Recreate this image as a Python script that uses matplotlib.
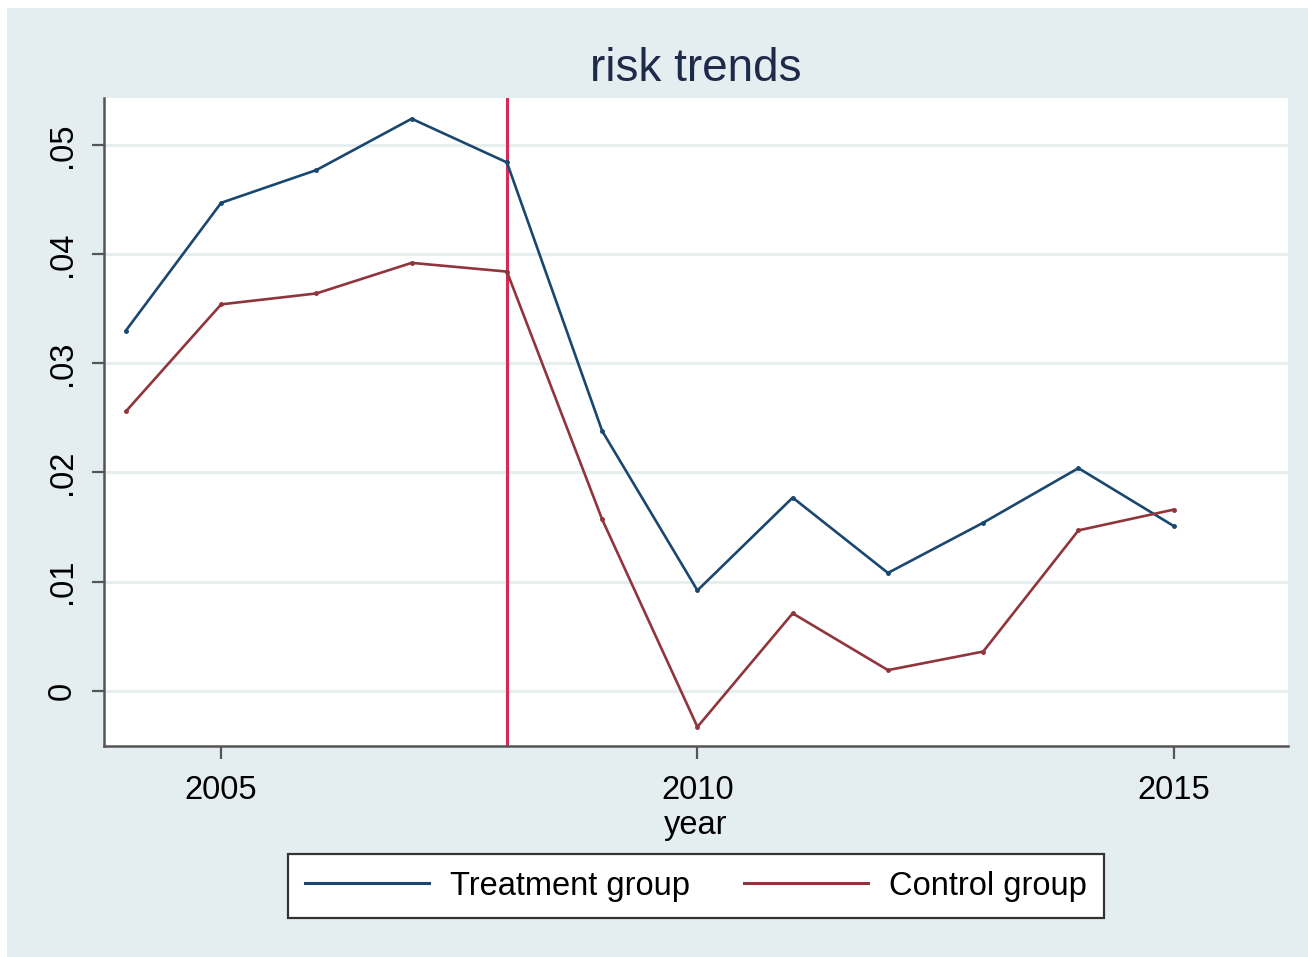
import matplotlib
matplotlib.use('Agg')
import matplotlib.pyplot as plt
from matplotlib.patches import Rectangle
from matplotlib.lines import Line2D

# yearly risk means by group
years = [2004, 2005, 2006, 2007, 2008, 2009, 2010, 2011, 2012, 2013, 2014, 2015]
treatment = [0.0330, 0.0447, 0.0477, 0.0524, 0.0484, 0.0238, 0.0092,
             0.0177, 0.0108, 0.0154, 0.0204, 0.0151]
control = [0.0256, 0.0354, 0.0364, 0.0392, 0.0384, 0.0157, -0.0033,
           0.0071, 0.0019, 0.0036, 0.0147, 0.0166]
policy_year = 2008

x_ticks = [2005, 2010, 2015]
y_ticks = [0, 0.01, 0.02, 0.03, 0.04, 0.05]
y_tick_labels = ['0', '.01', '.02', '.03', '.04', '.05']

BG = '#e4eef0'
NAVY = '#1a476f'
MAROON = '#90353b'
VLINE = '#d42a55'

plt.rcParams['font.family'] = ['Liberation Sans', 'DejaVu Sans']

fig = plt.figure(figsize=(13.08, 9.57), dpi=100)
fig.patch.set_facecolor('white')
fig.patches.append(Rectangle((7 / 1308, 0), 1 - 7 / 1308, 1 - 8 / 957,
                             transform=fig.transFigure, facecolor=BG,
                             edgecolor='none', zorder=-10))

ax = fig.add_axes([104 / 1308, 1 - 746 / 957, (1288 - 104) / 1308, (746 - 98) / 957])
ax.set_facecolor('white')

ax.plot(years, treatment, color=NAVY, lw=1.9, marker='o', ms=2.5, zorder=3)
ax.plot(years, control, color=MAROON, lw=1.9, marker='o', ms=2.5, zorder=3)
ax.axvline(policy_year, color=VLINE, lw=2.2, zorder=2)

ax.set_xlim(2003.77, 2016.2)
ax.set_ylim(-0.00505, 0.0543)

ax.set_xticks(x_ticks)
ax.set_xticklabels([str(t) for t in x_ticks], fontsize=23.5)
ax.set_yticks(y_ticks)
ax.set_yticklabels(y_tick_labels, fontsize=23.5, rotation=90, va='center')
ax.tick_params(axis='both', length=9, width=1.6, color='#555555')
ax.tick_params(axis='x', pad=12)
ax.tick_params(axis='y', pad=10)

ax.yaxis.grid(True, color='#e6eef0', lw=2.2)
ax.set_axisbelow(True)

for side in ['top', 'right']:
    ax.spines[side].set_visible(False)
for side in ['left', 'bottom']:
    ax.spines[side].set_color('#555555')
    ax.spines[side].set_linewidth(1.8)

ax.set_xlabel('year', fontsize=23.5, labelpad=3)
ax.set_title('risk trends', fontsize=33, color='#1e2a4a', pad=12)

# legend keys are plain lines, no markers
handles = [Line2D([], [], color=NAVY, lw=2.2),
           Line2D([], [], color=MAROON, lw=2.2)]
leg = fig.legend(handles, ['Treatment group', 'Control group'],
                 loc='center', bbox_to_anchor=(696 / 1308, 1 - 886 / 957),
                 ncol=2, fontsize=23.5, frameon=True, fancybox=False,
                 handlelength=3.8, handletextpad=0.65, columnspacing=1.65,
                 borderpad=0.52, borderaxespad=0)
frame = leg.get_frame()
frame.set_edgecolor('#333333')
frame.set_linewidth(1.6)
frame.set_facecolor('white')
frame.set_alpha(1)

fig.savefig('out.png', dpi=100, facecolor='white')
